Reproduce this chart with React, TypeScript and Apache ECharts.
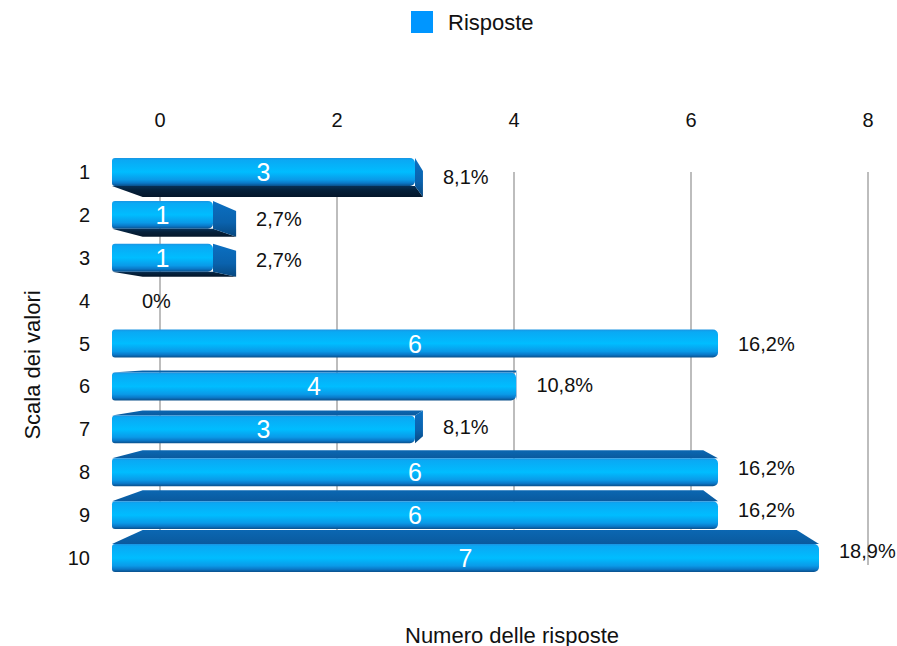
import React, { useEffect, useRef } from "react";
import * as echarts from "echarts";

// Scale values (1..10) and how many answers each one received
const categories = ["1", "2", "3", "4", "5", "6", "7", "8", "9", "10"];
const responses = [3, 1, 1, 0, 6, 4, 3, 6, 6, 7];
const axisTicks = [0, 2, 4, 6, 8];

const seriesName = "Risposte";
const xTitle = "Numero delle risposte";
const yTitle = "Scala dei valori";
const FONT = "'Liberation Sans', Arial, Helvetica, sans-serif";

const total = responses.reduce((a, b) => a + b, 0);
const percentLabel = (v: number) =>
  v === 0 ? "0%" : ((v / total) * 100).toFixed(1).replace(".", ",") + "%";

const lg = (stops: [number, string][], x2 = 0, y2 = 1) =>
  new echarts.graphic.LinearGradient(
    0,
    0,
    x2,
    y2,
    stops.map(([offset, color]) => ({ offset, color }))
  );

export default function App() {
  const ref = useRef<HTMLDivElement>(null);

  useEffect(() => {
    if (!ref.current) return;
    const chart = echarts.init(ref.current, undefined, { renderer: "svg" });

    // Depth of the bars: points recede toward a vanishing point
    const KX = 0.075;
    const KY = 0.07;

    const renderItem = (params: any, api: any) => {
      const v = api.value(0) as number;
      const ci = api.value(1) as number;
      const [x0, yc] = api.coord([0, ci]);
      const [x1] = api.coord([v, ci]);
      const band = api.size([0, 1])[1];
      const h = band * 0.65;
      const yt = yc - h / 2;
      const yb = yc + h / 2;
      const VX = api.coord([4.05, 0])[0];
      const VY = api.coord([0, 4])[1];
      const proj = (x: number, y: number) => [x + (VX - x) * KX, y + (VY - y) * KY];

      const children: any[] = [];

      if (v > 0) {
        if (yb < VY) {
          // underside, seen from below
          children.push({
            type: "polygon",
            z2: 1,
            shape: { points: [[x0, yb], [x1, yb], proj(x1, yb), proj(x0, yb)] },
            style: { fill: lg([[0, "#073056"], [0.4, "#05203a"], [1, "#04162a"]]) },
          });
        }
        if (yt > VY) {
          // upper side, seen from above
          children.push({
            type: "polygon",
            z2: 1,
            shape: { points: [[x0, yt], [x1, yt], proj(x1, yt), proj(x0, yt)] },
            style: { fill: lg([[0, "#0b67b2"], [1, "#0a5a9e"]]) },
          });
        }
        if (x1 < VX) {
          // end cap on the right
          children.push({
            type: "polygon",
            z2: 1,
            shape: { points: [[x1, yt], proj(x1, yt), proj(x1, yb), [x1, yb]] },
            style: { fill: lg([[0, "#0b70c2"], [0.6, "#0a62ad"], [1, "#08477e"]]) },
          });
        }
        // front face
        children.push({
          type: "rect",
          z2: 2,
          shape: { x: x0, y: yt, width: x1 - x0, height: h, r: [3, 5, 5, 3] },
          style: {
            fill: lg([
              [0, "#1a94e2"],
              [0.08, "#0aa9f4"],
              [0.5, "#00bdff"],
              [0.78, "#0a9ae8"],
              [0.9, "#0a78c8"],
              [1, "#0a4f8a"],
            ]),
          },
        });
        children.push({
          type: "text",
          z2: 3,
          style: {
            x: (x0 + x1) / 2,
            y: yc,
            text: String(v),
            fill: "#ffffff",
            fontSize: 25,
            fontFamily: FONT,
            align: "center",
            verticalAlign: "middle",
          },
        });
      }

      // percentage beside the bar, centred on its visible extent
      let lx: number;
      let ly: number;
      if (v === 0) {
        lx = x0 + 30;
        ly = yc;
      } else {
        const pt = proj(x1, yt);
        const pb = proj(x1, yb);
        lx = Math.max(x1, pt[0]) + 20;
        ly = (Math.min(yt, pt[1]) + Math.max(yb, pb[1])) / 2;
      }
      children.push({
        type: "text",
        z2: 3,
        style: {
          x: lx,
          y: ly,
          text: percentLabel(v),
          fill: "#111111",
          fontSize: 20,
          fontFamily: FONT,
          align: "left",
          verticalAlign: "middle",
        },
      });

      return { type: "group", children };
    };

    chart.setOption({
      animation: false,
      backgroundColor: "#ffffff",
      textStyle: { fontFamily: FONT },
      legend: {
        data: [seriesName],
        left: 411,
        top: 11,
        padding: 0,
        icon: "rect",
        itemWidth: 22,
        itemHeight: 22,
        textStyle: { fontSize: 22, color: "#111111", fontFamily: FONT, padding: [0, 0, 0, 10] },
      },
      graphic: [
        {
          type: "text",
          left: 405,
          top: 624,
          style: {
            text: xTitle,
            fill: "#111111",
            fontSize: 22,
            fontFamily: FONT,
          },
        },
      ],
      grid: [
        // back plane: value scale and grid lines
        { left: 160, width: 708, top: 172, height: 393 },
        // front plane: the bars
        { left: 112, width: 757.5, top: 150.5, height: 429 },
      ],
      xAxis: [
        {
          gridIndex: 0,
          type: "value",
          position: "top",
          min: axisTicks[0],
          max: axisTicks[axisTicks.length - 1],
          interval: axisTicks[1] - axisTicks[0],
          axisLine: { show: false },
          axisTick: { show: false },
          axisLabel: { fontSize: 20, color: "#111111", margin: 42, fontFamily: FONT },
          splitLine: { show: true, lineStyle: { color: "#bdbdbd", width: 2 } },
        },
        {
          gridIndex: 1,
          type: "value",
          position: "bottom",
          min: 0,
          max: 7.5,
          axisLine: { show: false },
          axisTick: { show: false },
          axisLabel: { show: false },
          splitLine: { show: false },
        },
      ],
      yAxis: [
        {
          gridIndex: 0,
          type: "value",
          show: false,
        },
        {
          gridIndex: 1,
          type: "category",
          data: categories,
          inverse: true,
          axisLine: { show: false },
          axisTick: { show: false },
          axisLabel: { fontSize: 20, color: "#111111", margin: 22, fontFamily: FONT },
          name: yTitle,
          nameLocation: "middle",
          nameRotate: 90,
          nameGap: 69,
          nameTextStyle: { fontSize: 22, color: "#111111", fontFamily: FONT },
        },
      ],
      series: [
        {
          name: seriesName,
          type: "custom",
          coordinateSystem: "cartesian2d",
          xAxisIndex: 1,
          yAxisIndex: 1,
          itemStyle: { color: "#0096ff" },
          encode: { x: 0, y: 1 },
          clip: false,
          data: responses.map((v, i) => [v, i]),
          renderItem,
        },
      ],
    });

    return () => chart.dispose();
  }, []);

  return (
    <div
      ref={ref}
      style={{ position: "fixed", left: 0, top: 0, width: 897, height: 646 }}
    />
  );
}
